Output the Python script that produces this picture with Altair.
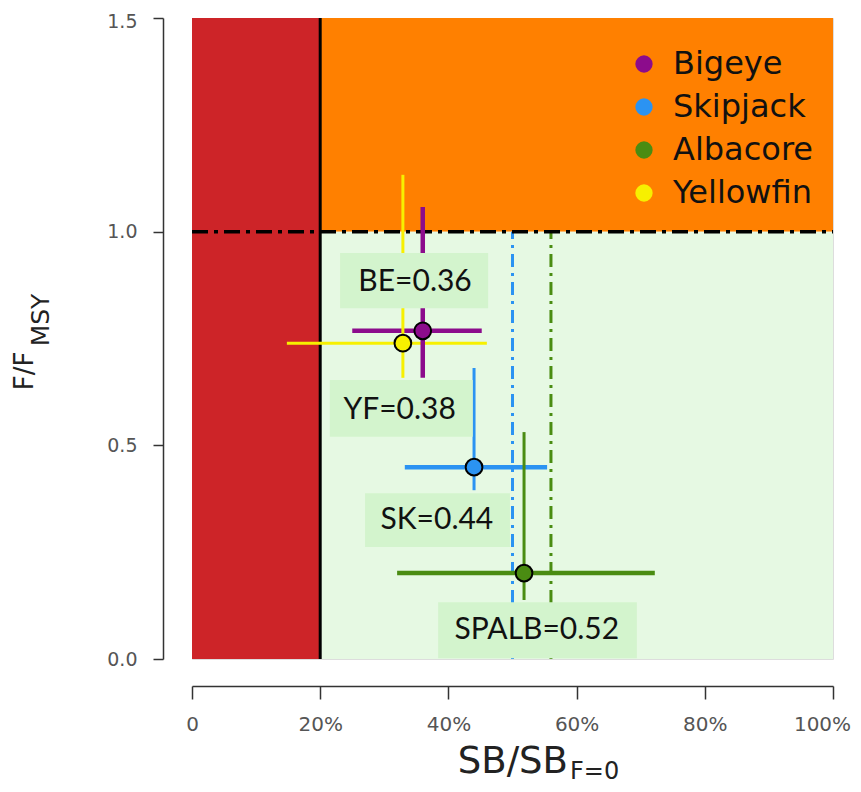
import altair as alt
import pandas as pd

# ---- data ----
species = ["Bigeye", "Skipjack", "Albacore", "Yellowfin"]
sb_est = [36.0, 44.0, 51.8, 32.9]          # SB/SB_F=0 (%)
f_est = [0.768, 0.449, 0.201, 0.739]       # F/F_MSY
sb_lo = [25.0, 33.2, 32.0, 14.8]
sb_hi = [45.2, 55.4, 72.2, 46.0]
f_lo = [0.658, 0.395, 0.138, 0.658]
f_hi = [1.058, 0.681, 0.531, 1.133]

# reference (target) lines
ref_species = ["Skipjack", "Albacore"]
ref_sb = [50.0, 56.0]

# annotation labels
label_text = ["BE=0.36", "YF=0.38", "SK=0.44", "SPALB=0.52"]
label_x = [34.8, 32.4, 38.2, 53.8]
label_y = [0.882, 0.583, 0.325, 0.068]
box_x1 = [23.1, 21.5, 27.0, 38.4]
box_x2 = [46.2, 43.8, 49.6, 69.4]
box_y1 = [0.821, 0.520, 0.262, 0.002]
box_y2 = [0.950, 0.653, 0.388, 0.133]

# zones
zone_name = ["red", "orange", "green"]
zone_x1 = [0, 20, 20]
zone_x2 = [20, 100, 100]
zone_y1 = [0, 1.0, 0]
zone_y2 = [1.5, 1.5, 1.0]

x_ticks = [0, 20, 40, 60, 80, 100]
y_ticks = [0.0, 0.5, 1.0, 1.5]

# ---- styles ----
sp_colors = ["#8C0C8C", "#2B93F2", "#4A8C12", "#F7F000"]
zone_colors = ["#CD2428", "#FF8000", "#E6F9E3"]

pts = pd.DataFrame(dict(species=species, sb=sb_est, f=f_est, sb_lo=sb_lo,
                        sb_hi=sb_hi, f_lo=f_lo, f_hi=f_hi))
refs = pd.DataFrame(dict(species=ref_species, sb=ref_sb))
labels = pd.DataFrame(dict(t=label_text, x=label_x, y=label_y, x1=box_x1,
                           x2=box_x2, y1=box_y1, y2=box_y2))
zones = pd.DataFrame(dict(z=zone_name, x1=zone_x1, x2=zone_x2, y1=zone_y1, y2=zone_y2))

xs = alt.Scale(domain=[0, 100], nice=False, zero=False)
ys = alt.Scale(domain=[0, 1.5], nice=False, zero=False)
cs = alt.Scale(domain=species, range=sp_colors)

x_axis = alt.Axis(values=x_ticks, labelExpr="datum.value == 0 ? '0' : datum.value + '%'",
                  title=None, offset=27, tickSize=13, grid=False, domainColor="#333",
                  tickColor="#333", domainWidth=1.5, tickWidth=1.5, labelFont="DejaVu Sans",
                  labelFontSize=20, labelColor="#555", labelPadding=15, labelFlush=False,
                  labelOffset={"condition": {"test": "datum.value == 100", "value": -11},
                               "value": 0})
y_axis = alt.Axis(values=y_ticks, format=".1f", title=None, offset=29, tickSize=10,
                  grid=False, domainColor="#333", tickColor="#333", domainWidth=1.5,
                  tickWidth=1.5, labelFont="DejaVu Sans", labelFontSize=19,
                  labelColor="#555", labelPadding=16, labelFlush=False,
                  labelOffset={"condition": {"test": "datum.value == 1.5", "value": 3},
                               "value": 0})

zone_layer = alt.Chart(zones).mark_rect().encode(
    x=alt.X("x1:Q", scale=xs, axis=x_axis), x2="x2",
    y=alt.Y("y1:Q", scale=ys, axis=y_axis), y2="y2",
    fill=alt.Fill("z:N", scale=alt.Scale(domain=zone_name, range=zone_colors), legend=None),
)

ref_layer = alt.Chart(refs).mark_rule(strokeWidth=3, strokeDash=[13, 6, 3, 6]).encode(
    x=alt.X("sb:Q", scale=xs), y=alt.datum(0), y2=alt.datum(1.0),
    color=alt.Color("species:N", scale=cs, legend=None),
)

v20 = alt.Chart(pd.DataFrame({"v": [20]})).mark_rule(color="black", strokeWidth=3).encode(
    x=alt.X("v:Q", scale=xs), y=alt.datum(0), y2=alt.datum(1.5))
h1 = alt.Chart(pd.DataFrame({"v": [1.0]})).mark_rule(
    color="black", strokeWidth=3.5, strokeDash=[16, 6, 4, 6]).encode(
    y=alt.Y("v:Q", scale=ys), x=alt.datum(0), x2=alt.datum(100))

hbar = alt.Chart(pts).mark_rule().encode(
    x=alt.X("sb_lo:Q", scale=xs), x2="sb_hi", y=alt.Y("f:Q", scale=ys),
    color=alt.Color("species:N", scale=cs, legend=None),
    strokeWidth=alt.condition(alt.datum.species == "Yellowfin", alt.value(3), alt.value(4.5)),
)
vbar = alt.Chart(pts).mark_rule().encode(
    x=alt.X("sb:Q", scale=xs), y=alt.Y("f_lo:Q", scale=ys), y2="f_hi",
    color=alt.Color("species:N", scale=cs, legend=None),
    strokeWidth=alt.condition(alt.datum.species == "Bigeye", alt.value(4.5), alt.value(3)),
)

boxes = alt.Chart(labels).mark_rect(color="#D3F4CD").encode(
    x=alt.X("x1:Q", scale=xs), x2="x2", y=alt.Y("y1:Q", scale=ys), y2="y2")
texts = alt.Chart(labels).mark_text(font="Lato", fontSize=30, color="#111",
                                    baseline="middle", align="center").encode(
    x=alt.X("x:Q", scale=xs), y=alt.Y("y:Q", scale=ys), text="t:N")

points = alt.Chart(pts).mark_point(filled=True, size=280, stroke="black", strokeWidth=2,
                                   opacity=1, shape="circle").encode(
    x=alt.X("sb:Q", scale=xs), y=alt.Y("f:Q", scale=ys),
    color=alt.Color("species:N", scale=cs, legend=alt.Legend(
        title=None, orient="none", legendX=436, legendY=30, direction="vertical",
        symbolType="circle", symbolSize=300, symbolStrokeWidth=0, symbolOpacity=1,
        labelFont="DejaVu Sans", labelFontSize=32, labelColor="#111", labelOffset=13,
        rowPadding=11, padding=0)),
)

# axis titles (with subscripts) as text
ttl = dict(color="#222", font="DejaVu Sans")
ytitle = alt.Chart(pd.DataFrame({"t": ["F/F"]})).mark_text(
    angle=270, align="center", baseline="middle", fontSize=26, **ttl).encode(
    x=alt.value(-167), y=alt.value(353), text="t:N")
ysub = alt.Chart(pd.DataFrame({"t": ["MSY"]})).mark_text(
    angle=270, align="center", baseline="middle", fontSize=25, **ttl).encode(
    x=alt.value(-151), y=alt.value(302), text="t:N")
xtitle = alt.Chart(pd.DataFrame({"t": ["SB/SB"]})).mark_text(
    align="right", baseline="alphabetic", fontSize=37, **ttl).encode(
    x=alt.value(376), y=alt.value(755), text="t:N")
xsub = alt.Chart(pd.DataFrame({"t": ["F=0"]})).mark_text(
    align="left", baseline="alphabetic", fontSize=24, **ttl).encode(
    x=alt.value(378), y=alt.value(761), text="t:N")

chart = alt.layer(zone_layer, ref_layer, v20, h1, hbar, vbar, boxes, texts, points,
                  ytitle, ysub, xtitle, xsub).resolve_scale(color="independent").properties(
    width=641, height=641,
    autosize=alt.AutoSizeParams(type="none"),
    padding={"left": 184, "top": 10, "right": 20, "bottom": 125},
).configure_view(stroke=None).configure(background="white")

chart.save("out.html", embed_options={"renderer": "svg", "actions": False})
